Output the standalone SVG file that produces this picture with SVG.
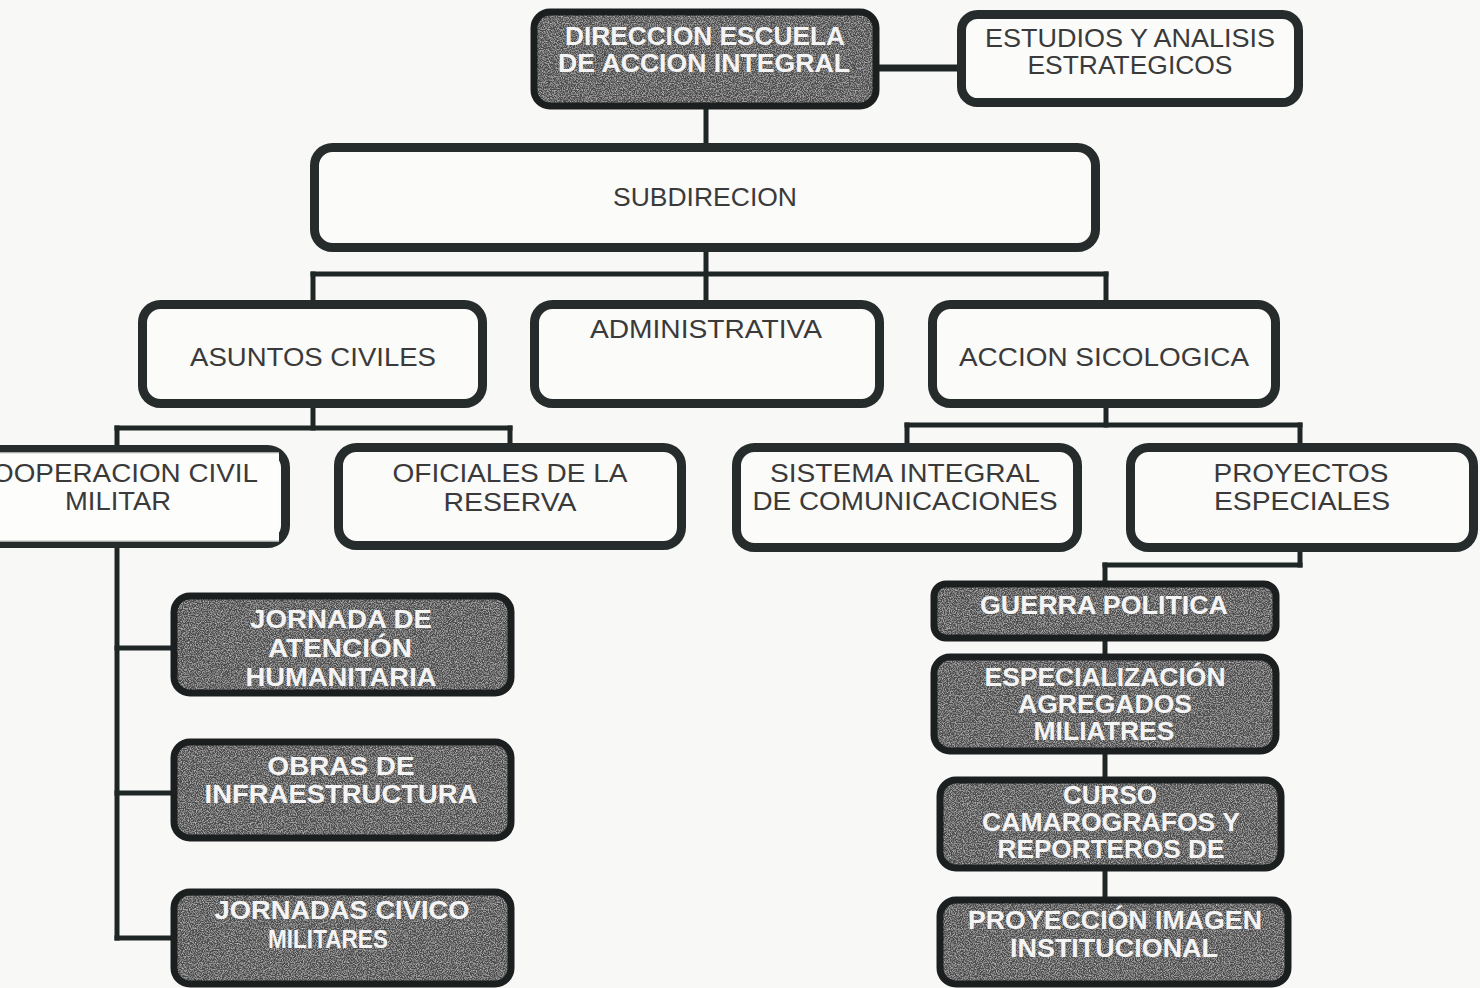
<svg xmlns="http://www.w3.org/2000/svg" width="1480" height="988" viewBox="0 0 1480 988">
<defs>
<style>
.bg{fill:#f8f8f6}
.wbox{fill:#fbfbfa;stroke:#262c2c;stroke-width:9}
.dfill{fill:#4c4c4c;filter:url(#grain)}
.dstroke{fill:none;stroke:#1c1f1f;stroke-width:7}
.con{stroke:#1f2626;stroke-width:5;fill:none;stroke-linecap:square}
.t{font-family:"Liberation Sans",Arial,sans-serif;font-size:26px;fill:#3a3a3a;text-anchor:middle}
.b{font-family:"Liberation Sans",Arial,sans-serif;font-size:26px;font-weight:bold;fill:#f4f4f4;text-anchor:middle}
</style>
<filter id="grain" x="0" y="0" width="100%" height="100%">
<feTurbulence type="fractalNoise" baseFrequency="0.85" numOctaves="2" seed="7" result="n"/>
<feColorMatrix in="n" type="matrix" values="0 0 0 0 0.8  0 0 0 0 0.8  0 0 0 0 0.8  1.4 0 0 0 -0.58" result="w"/>
<feComposite in="w" in2="SourceGraphic" operator="in" result="ws"/>
<feMerge><feMergeNode in="SourceGraphic"/><feMergeNode in="ws"/></feMerge>
</filter>
</defs>
<rect class="bg" x="0" y="0" width="1480" height="988"/>

<g id="connectors">
<line class="con" x1="880" y1="68" x2="957" y2="68" style="stroke-width:7"/>
<line class="con" x1="706" y1="110" x2="706" y2="143"/>
<line class="con" x1="706" y1="252" x2="706" y2="300"/>
<line class="con" x1="313" y1="274" x2="1106" y2="274"/>
<line class="con" x1="313" y1="274" x2="313" y2="300"/>
<line class="con" x1="1106" y1="274" x2="1106" y2="300"/>
<line class="con" x1="313" y1="408" x2="313" y2="428"/>
<line class="con" x1="117" y1="428" x2="510" y2="428"/>
<line class="con" x1="117" y1="428" x2="117" y2="448"/>
<line class="con" x1="510" y1="428" x2="510" y2="445"/>
<line class="con" x1="117" y1="545" x2="117" y2="938"/>
<line class="con" x1="117" y1="648" x2="170" y2="648"/>
<line class="con" x1="117" y1="793" x2="170" y2="793"/>
<line class="con" x1="117" y1="938" x2="170" y2="938"/>
<line class="con" x1="1106" y1="408" x2="1106" y2="425"/>
<line class="con" x1="907" y1="425" x2="1300" y2="425"/>
<line class="con" x1="907" y1="425" x2="907" y2="445"/>
<line class="con" x1="1300" y1="425" x2="1300" y2="445"/>
<line class="con" x1="1300" y1="552" x2="1300" y2="565"/>
<line class="con" x1="1105" y1="565" x2="1300" y2="565"/>
<line class="con" x1="1105" y1="565" x2="1105" y2="580"/>
<line class="con" x1="1105" y1="642" x2="1105" y2="653"/>
<line class="con" x1="1105" y1="755" x2="1105" y2="776"/>
<line class="con" x1="1105" y1="872" x2="1105" y2="896"/>
</g>

<g id="n-direccion">
<rect class="dfill" x="534" y="12" width="342" height="94" rx="16"/>
<rect class="dstroke" x="534" y="12" width="342" height="94" rx="16"/>
<text class="b" x="705" y="45" textLength="280" lengthAdjust="spacingAndGlyphs">DIRECCION ESCUELA</text>
<text class="b" x="704" y="72" textLength="292" lengthAdjust="spacingAndGlyphs">DE ACCION INTEGRAL</text>
</g>

<g id="n-estudios">
<rect class="wbox" x="961.5" y="14.5" width="337" height="88" rx="16"/>
<text class="t" x="1130" y="47" textLength="290" lengthAdjust="spacingAndGlyphs">ESTUDIOS Y ANALISIS</text>
<text class="t" x="1130" y="74" textLength="205" lengthAdjust="spacingAndGlyphs">ESTRATEGICOS</text>
</g>

<g id="n-subdireccion">
<rect class="wbox" x="314.5" y="147.5" width="781" height="100" rx="18"/>
<text class="t" x="705" y="206" textLength="184" lengthAdjust="spacingAndGlyphs">SUBDIRECION</text>
</g>

<g id="n-asuntos">
<rect class="wbox" x="142.5" y="304.5" width="340" height="99" rx="18"/>
<text class="t" x="313" y="366" textLength="246" lengthAdjust="spacingAndGlyphs">ASUNTOS CIVILES</text>
</g>

<g id="n-administrativa">
<rect class="wbox" x="534.5" y="304.5" width="345" height="99" rx="18"/>
<text class="t" x="706" y="338" textLength="232" lengthAdjust="spacingAndGlyphs">ADMINISTRATIVA</text>
</g>

<g id="n-accion">
<rect class="wbox" x="932.5" y="304.5" width="343" height="99" rx="18"/>
<text class="t" x="1104" y="366" textLength="290" lengthAdjust="spacingAndGlyphs">ACCION SICOLOGICA</text>
</g>

<g id="n-cooperacion">
<rect class="wbox" x="-60" y="449.5" width="345.5" height="94" rx="18"/>
<rect x="0" y="453" width="279" height="88" fill="#fdfdfc"/>
<line x1="0" y1="453" x2="279" y2="453" stroke="#d8d8d4" stroke-width="1.5"/>
<line x1="0" y1="541" x2="279" y2="541" stroke="#d0d0cc" stroke-width="1.5"/>
<text class="t" x="-28" y="482" textLength="286" lengthAdjust="spacingAndGlyphs" style="text-anchor:start">COOPERACION CIVIL</text>
<text class="t" x="118" y="510" textLength="106" lengthAdjust="spacingAndGlyphs">MILITAR</text>
</g>

<g id="n-oficiales">
<rect class="wbox" x="338.5" y="447.5" width="343" height="98" rx="18"/>
<text class="t" x="510" y="482" textLength="235" lengthAdjust="spacingAndGlyphs">OFICIALES DE LA</text>
<text class="t" x="510" y="511" textLength="133" lengthAdjust="spacingAndGlyphs">RESERVA</text>
</g>

<g id="n-sistema">
<rect class="wbox" x="736.5" y="447.5" width="341" height="100" rx="18"/>
<text class="t" x="905" y="482" textLength="270" lengthAdjust="spacingAndGlyphs">SISTEMA INTEGRAL</text>
<text class="t" x="905" y="510" textLength="305" lengthAdjust="spacingAndGlyphs">DE COMUNICACIONES</text>
</g>

<g id="n-proyectos">
<rect class="wbox" x="1130.5" y="447.5" width="343" height="100" rx="18"/>
<text class="t" x="1301" y="482" textLength="175" lengthAdjust="spacingAndGlyphs">PROYECTOS</text>
<text class="t" x="1302" y="510" textLength="176" lengthAdjust="spacingAndGlyphs">ESPECIALES</text>
</g>

<g id="n-jornada-atencion">
<rect class="dfill" x="174" y="596" width="337" height="97" rx="16"/>
<rect class="dstroke" x="174" y="596" width="337" height="97" rx="16"/>
<text class="b" x="341" y="628" textLength="182" lengthAdjust="spacingAndGlyphs">JORNADA DE</text>
<text class="b" x="340" y="657" textLength="144" lengthAdjust="spacingAndGlyphs">ATENCIÓN</text>
<text class="b" x="341" y="686" textLength="191" lengthAdjust="spacingAndGlyphs">HUMANITARIA</text>
</g>

<g id="n-obras">
<rect class="dfill" x="174" y="742" width="337" height="96" rx="16"/>
<rect class="dstroke" x="174" y="742" width="337" height="96" rx="16"/>
<text class="b" x="341" y="775" textLength="147" lengthAdjust="spacingAndGlyphs">OBRAS DE</text>
<text class="b" x="341" y="803" textLength="273" lengthAdjust="spacingAndGlyphs">INFRAESTRUCTURA</text>
</g>

<g id="n-jornadas-civico">
<rect class="dfill" x="174" y="892" width="337" height="92" rx="16"/>
<rect class="dstroke" x="174" y="892" width="337" height="92" rx="16"/>
<text class="b" x="342" y="919" textLength="255" lengthAdjust="spacingAndGlyphs">JORNADAS CIVICO</text>
<text class="b" x="328" y="948" textLength="120" lengthAdjust="spacingAndGlyphs">MILITARES</text>
</g>

<g id="n-guerra">
<rect class="dfill" x="934" y="584" width="342" height="54" rx="12"/>
<rect class="dstroke" x="934" y="584" width="342" height="54" rx="12"/>
<text class="b" x="1104" y="614" textLength="248" lengthAdjust="spacingAndGlyphs">GUERRA POLITICA</text>
</g>

<g id="n-especializacion">
<rect class="dfill" x="934" y="657" width="342" height="94" rx="16"/>
<rect class="dstroke" x="934" y="657" width="342" height="94" rx="16"/>
<text class="b" x="1105" y="686" textLength="241" lengthAdjust="spacingAndGlyphs">ESPECIALIZACIÓN</text>
<text class="b" x="1105" y="713" textLength="174" lengthAdjust="spacingAndGlyphs">AGREGADOS</text>
<text class="b" x="1104" y="740" textLength="141" lengthAdjust="spacingAndGlyphs">MILIATRES</text>
</g>

<g id="n-curso">
<rect class="dfill" x="940" y="780" width="341" height="88" rx="16"/>
<rect class="dstroke" x="940" y="780" width="341" height="88" rx="16"/>
<text class="b" x="1110" y="804" textLength="94" lengthAdjust="spacingAndGlyphs">CURSO</text>
<text class="b" x="1111" y="831" textLength="258" lengthAdjust="spacingAndGlyphs">CAMAROGRAFOS Y</text>
<text class="b" x="1111" y="858" textLength="227" lengthAdjust="spacingAndGlyphs">REPORTEROS DE</text>
</g>

<g id="n-proyeccion">
<rect class="dfill" x="940" y="900" width="348" height="84" rx="16"/>
<rect class="dstroke" x="940" y="900" width="348" height="84" rx="16"/>
<text class="b" x="1115" y="929" textLength="294" lengthAdjust="spacingAndGlyphs">PROYECCIÓN IMAGEN</text>
<text class="b" x="1114" y="957" textLength="208" lengthAdjust="spacingAndGlyphs">INSTITUCIONAL</text>
</g>
</svg>
